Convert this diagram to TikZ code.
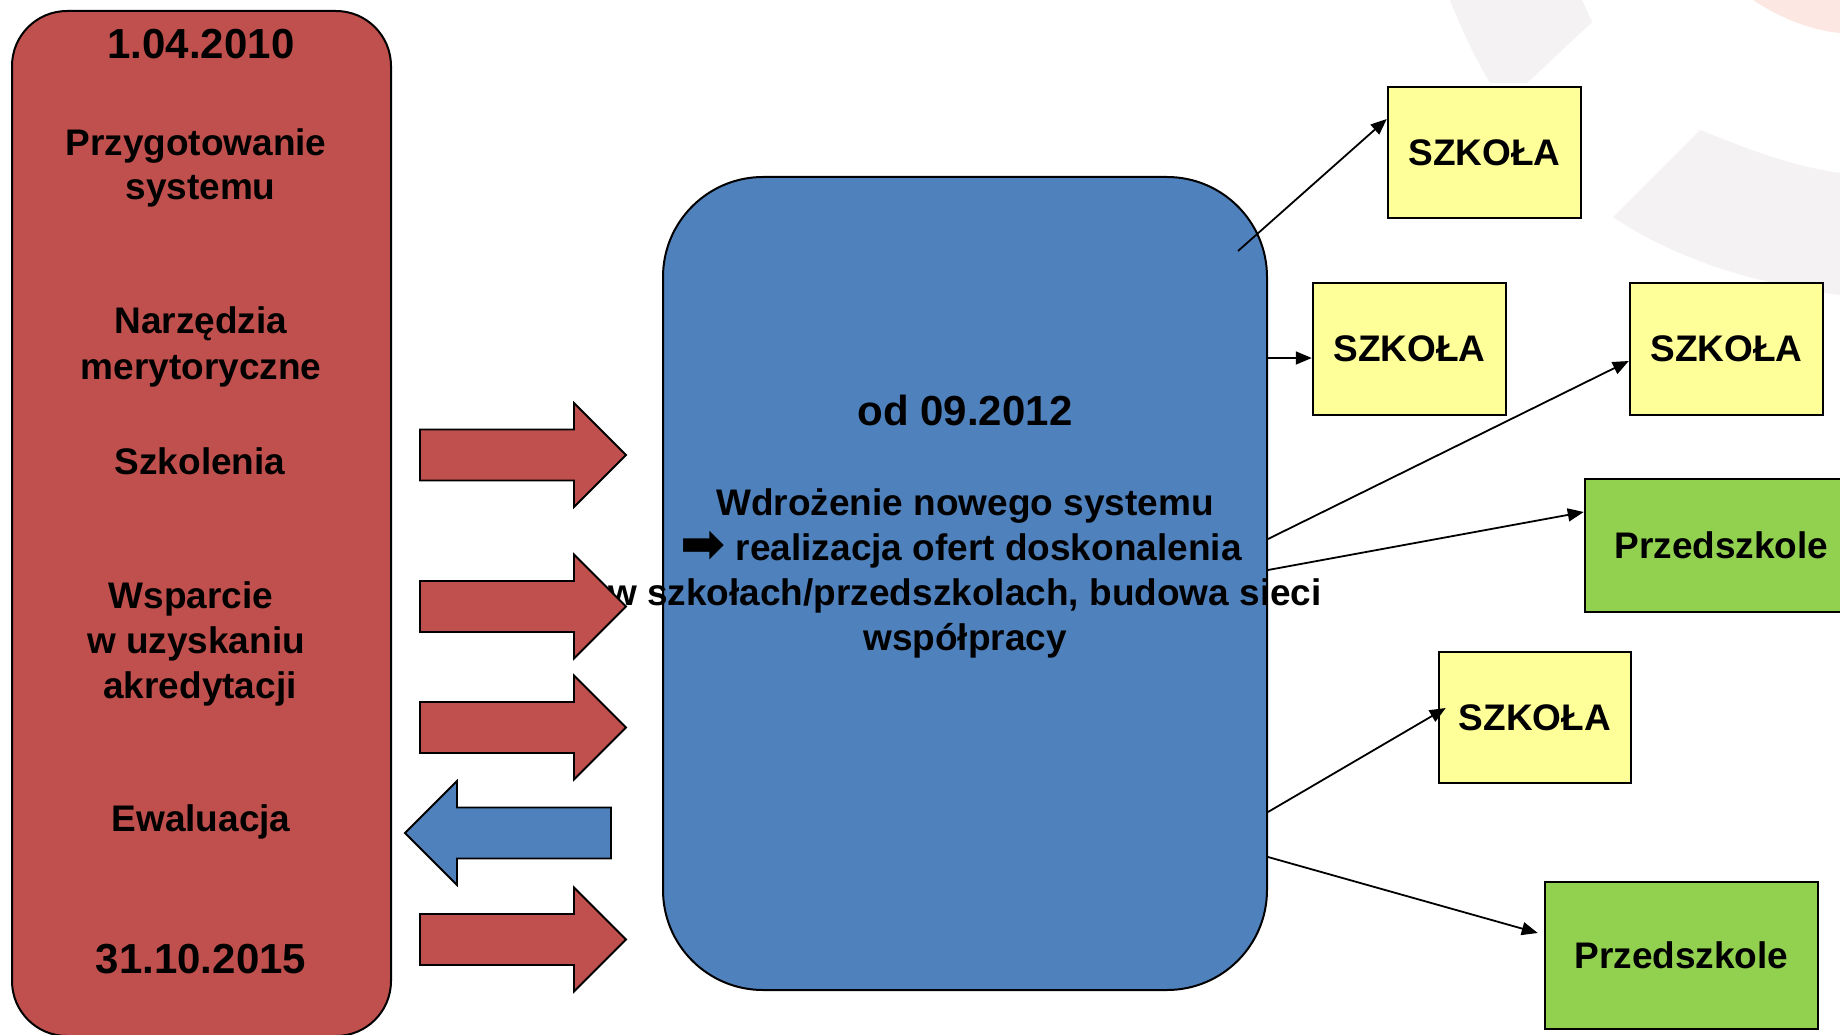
\documentclass[tikz,border=0pt]{standalone}
\usepackage{fontspec}
\setmainfont{Liberation Sans}
\newfontfamily\symfont{DejaVu Sans}
\usetikzlibrary{arrows.meta}
\definecolor{boxred}{HTML}{C0504D}
\definecolor{boxblue}{HTML}{4F81BD}
\definecolor{boxyellow}{HTML}{FFFF99}
\definecolor{boxgreen}{HTML}{92D050}
\definecolor{wmgray}{HTML}{F4F2F2}
\definecolor{wmpink}{HTML}{FCE7E2}
\begin{document}
\begin{tikzpicture}[x=1pt,y=-1pt,
  lbl/.style={anchor=base, inner sep=0pt, font=\fontsize{37}{45}\selectfont\bfseries},
  datelbl/.style={anchor=base, inner sep=0pt, font=\fontsize{42}{50}\selectfont\bfseries},
  sbox/.style={draw=black, line width=2.5pt, fill=boxyellow, inner sep=0pt, font=\fontsize{37}{45}\selectfont\bfseries},
  pbox/.style={sbox, fill=boxgreen},
  bigbox/.style={draw=black, line width=2pt, inner sep=0pt},
  conn/.style={line width=1.8pt, -{Triangle[length=16pt,width=13pt]}},
  blockr/.style={draw=black, line width=1.8pt, fill=boxred, line join=miter},
  blockb/.style={blockr, fill=boxblue},
  rarr/.pic={\path[blockr] (0,-25.5) -- (154,-25.5) -- (154,-52) -- (206,0) -- (154,52) -- (154,25.5) -- (0,25.5) -- cycle;},
  larr/.pic={\path[blockb] (0,0) -- (52,-52) -- (52,-25.5) -- (206,-25.5) -- (206,25.5) -- (52,25.5) -- (52,52) -- cycle;}
]
\useasboundingbox[fill=white] (0,0) rectangle (1840,1035);

% faint watermark
\fill[wmgray] (1450,0) .. controls (1462,30) and (1475,58) .. (1490,83) -- (1527,83) -- (1592,22) -- (1582,0) -- cycle;
\fill[wmgray] (1613,217) -- (1700,130) .. controls (1745,148) and (1790,166) .. (1840,173) -- (1840,295) .. controls (1760,284) and (1680,262) .. (1613,217) -- cycle;
\fill[wmpink] (1753,0) .. controls (1780,18) and (1810,30) .. (1840,33) -- (1840,0) -- cycle;

% left red panel
\node[bigbox, fill=boxred, rounded corners=55pt, minimum width=379pt, minimum height=1025pt] (redbox) at (201.5,523.5) {};
\node[datelbl] (d1) at (201,59) {1.04.2010};
\node[lbl] (t1a) at (196,156) {Przygotowanie};
\node[lbl] (t1b) at (200.5,200) {systemu};
\node[lbl] (t2a) at (201,333) {Narzędzia};
\node[lbl] (t2b) at (201,379) {merytoryczne};
\node[lbl] (t3) at (200,474) {Szkolenia};
\node[lbl] (t4a) at (191,608) {Wsparcie};
\node[lbl] (t4b) at (196,653) {w uzyskaniu};
\node[lbl] (t4c) at (200,698) {akredytacji};
\node[lbl] (t5) at (201,831) {Ewaluacja};
\node[datelbl] (d2) at (201,973) {31.10.2015};

% central blue panel
\node[bigbox, fill=boxblue, rounded corners=100pt, minimum width=604pt, minimum height=813pt] (blue) at (965,583.5) {};
\node[datelbl] (b0) at (965,425) {od 09.2012};
\node[lbl] (b1) at (965,515) {Wdrożenie nowego systemu};
\node[lbl] (b2) at (961,560) {{\symfont\fontsize{54}{45}\selectfont\raisebox{-2pt}{➡}} realizacja ofert doskonalenia};
\node[lbl] (b3) at (965,605) {w szkołach/przedszkolach, budowa sieci};
\node[lbl] (b4) at (965,650) {współpracy};

% block arrows
\pic at (420,455) {rarr};
\pic at (420,606.5) {rarr};
\pic at (420,727.5) {rarr};
\pic at (405,833) {larr};
\pic at (420,939.5) {rarr};

% target boxes
\node[sbox, minimum width=193pt, minimum height=131pt] (sz1) at (1484.5,152.5) {SZKOŁA};
\node[sbox, minimum width=193pt, minimum height=132pt] (sz2) at (1409.5,349) {SZKOŁA};
\node[sbox, minimum width=193pt, minimum height=132pt] (sz3) at (1726.5,349) {SZKOŁA};
\node[pbox, minimum width=273pt, minimum height=133pt] (pr1) at (1721.5,545.5) {Przedszkole};
\node[sbox, minimum width=192pt, minimum height=131pt] (sz4) at (1535,717.5) {SZKOŁA};
\node[pbox, minimum width=273pt, minimum height=147pt] (pr2) at (1681.5,955.5) {Przedszkole};

% connectors
\coordinate (o1) at (1238,251);
\draw[conn] (o1) -- ([yshift=33.5pt]sz1.west);
\draw[conn] ([yshift=225.5pt]blue.east) -- ([yshift=-9pt]sz2.west);
\draw[conn] ([yshift=44.5pt]blue.east) -- ([yshift=-12pt]sz3.west);
\draw[conn] ([yshift=13.5pt]blue.east) -- ([yshift=33.5pt]pr1.west);
\draw[conn] ([yshift=-228.5pt]blue.east) -- ([xshift=8pt,yshift=9.5pt]sz4.west);
\draw[conn] ([yshift=-273.5pt]blue.east) -- ([xshift=-6pt,yshift=22.5pt]pr2.west);
\end{tikzpicture}
\end{document}
